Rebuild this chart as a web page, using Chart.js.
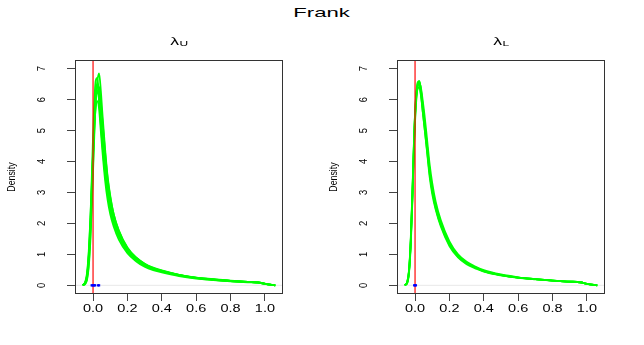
<!DOCTYPE html>
<html>
<head>
<meta charset="utf-8">
<script src="https://cdn.jsdelivr.net/npm/chart.js@4.4.0/dist/chart.umd.min.js"></script>
<style>
  html, body { margin: 0; padding: 0; background: #fff; }
  #fig { position: relative; width: 644px; height: 345px; overflow: hidden; }
  .panel { position: absolute; top: 0; }
  #title { position: absolute; top: 5px; left: 0; width: 644px; text-align: center;
           font: 13px "Liberation Sans", Arial, sans-serif; line-height: 15px; color: #000; }
  #title span { display: inline-block; transform: scaleX(1.7); }
</style>
</head>
<body>
<div id="fig">
  <div id="title"><span>Frank</span></div>
  <canvas id="upper" class="panel" width="322" height="345" style="left:0"></canvas>
  <canvas id="lower" class="panel" width="322" height="345" style="left:322px"></canvas>
</div>
<script>
// density grid (x) shared by all curves
const xGrid = [-0.06, -0.045, -0.035, -0.025, -0.015, -0.005, 0.005, 0.015, 0.025, 0.035,
               0.045, 0.055, 0.07, 0.085, 0.10, 0.12, 0.15, 0.20, 0.25, 0.30,
               0.35, 0.40, 0.50, 0.60, 0.70, 0.80, 0.90, 0.96, 1.00, 1.06];

// lambda_U density estimates
const upper1 = [0, 0.1, 0.3, 0.9, 2.0, 3.5, 5.1, 6.2, 6.5, 6.0, 5.2, 4.5, 3.6, 2.95, 2.5, 2.05, 1.6, 1.12, 0.85, 0.66, 0.54, 0.46, 0.33, 0.24, 0.19, 0.14, 0.11, 0.095, 0.05, 0];
const upper2 = [0, 0.05, 0.18, 0.6, 1.5, 2.9, 4.5, 5.9, 6.6, 6.85, 6.3, 5.5, 4.4, 3.5, 2.9, 2.3, 1.78, 1.22, 0.9, 0.7, 0.56, 0.47, 0.34, 0.25, 0.19, 0.145, 0.11, 0.095, 0.05, 0];
const upper3 = [0, 0.1, 0.35, 1.0, 2.2, 3.9, 5.6, 6.6, 6.7, 6.1, 5.3, 4.6, 3.7, 3.0, 2.5, 2.05, 1.58, 1.1, 0.83, 0.64, 0.52, 0.44, 0.32, 0.23, 0.18, 0.14, 0.11, 0.09, 0.05, 0];
const upper4 = [0, 0.12, 0.4, 1.1, 2.2, 3.6, 4.9, 5.7, 5.95, 5.7, 5.0, 4.3, 3.4, 2.75, 2.3, 1.9, 1.48, 1.04, 0.78, 0.6, 0.49, 0.42, 0.3, 0.22, 0.17, 0.13, 0.1, 0.085, 0.045, 0];
const upper5 = [0, 0.08, 0.3, 0.9, 1.9, 3.4, 5.0, 6.0, 6.3, 6.0, 5.4, 4.8, 3.9, 3.15, 2.65, 2.15, 1.66, 1.16, 0.87, 0.67, 0.55, 0.47, 0.34, 0.25, 0.2, 0.15, 0.115, 0.1, 0.055, 0];
const upper6 = [0, 0.06, 0.22, 0.7, 1.7, 3.1, 4.7, 6.0, 6.45, 6.4, 5.9, 5.3, 4.3, 3.45, 2.85, 2.3, 1.75, 1.2, 0.9, 0.7, 0.57, 0.48, 0.34, 0.24, 0.18, 0.14, 0.105, 0.09, 0.05, 0];

// lambda_L density estimates
const lower1 = [0, 0.1, 0.45, 1.4, 3.0, 4.8, 6.0, 6.5, 6.6, 6.3, 5.8, 5.3, 4.5, 3.7, 3.1, 2.55, 2.0, 1.35, 0.95, 0.72, 0.58, 0.46, 0.33, 0.25, 0.2, 0.15, 0.12, 0.1, 0.05, 0];
const lower2 = [0, 0.12, 0.5, 1.5, 3.1, 4.9, 6.0, 6.45, 6.5, 6.15, 5.6, 5.1, 4.3, 3.5, 2.95, 2.45, 1.9, 1.27, 0.9, 0.68, 0.55, 0.44, 0.32, 0.24, 0.19, 0.15, 0.115, 0.1, 0.05, 0];
const lower3 = [0, 0.08, 0.4, 1.3, 2.8, 4.6, 5.8, 6.4, 6.55, 6.35, 5.95, 5.5, 4.7, 3.9, 3.3, 2.7, 2.1, 1.42, 1.0, 0.76, 0.61, 0.49, 0.35, 0.26, 0.2, 0.155, 0.12, 0.1, 0.05, 0];
const lower4 = [0, 0.1, 0.45, 1.4, 2.9, 4.7, 5.9, 6.35, 6.4, 6.1, 5.6, 5.1, 4.35, 3.6, 3.05, 2.5, 1.95, 1.32, 0.93, 0.71, 0.57, 0.46, 0.33, 0.25, 0.2, 0.15, 0.12, 0.1, 0.05, 0];
const lower5 = [0, 0.11, 0.48, 1.45, 3.0, 4.85, 6.05, 6.55, 6.6, 6.25, 5.75, 5.25, 4.5, 3.7, 3.1, 2.58, 2.02, 1.36, 0.96, 0.73, 0.58, 0.47, 0.33, 0.25, 0.2, 0.15, 0.12, 0.1, 0.05, 0];

// estimates shown as blue points on the x axis
const upperDots = [-0.008, -0.003, 0.002, 0.007, 0.012, 0.029, 0.035];
const lowerDots = [-0.005, 0, 0.005];

const trueValue = 0;   // red reference line
const xTicks = [0, 0.2, 0.4, 0.6, 0.8, 1.0];
const yTicks = [0, 1, 2, 3, 4, 5, 6, 7];

const FONT = '"Liberation Sans", Arial, sans-serif';

const rStyle = {
    id: 'rStyle',
    afterDraw(chart, args, opts)
    {
        const ctx = chart.ctx;
        const a = chart.chartArea;
        const x = chart.scales.x, y = chart.scales.y;
        ctx.save();

        // plot box
        ctx.strokeStyle = '#333';
        ctx.lineWidth = 1;
        ctx.strokeRect(a.left + 0.5, a.top + 0.5, a.width - 1, a.height - 1);

        ctx.fillStyle = '#000';
        ctx.textAlign = 'center';
        ctx.textBaseline = 'middle';
        ctx.font = '10px ' + FONT;
        xTicks.forEach(v => {
            ctx.save();
            ctx.translate(x.getPixelForValue(v), 309.5);
            ctx.scale(1.45, 1);
            ctx.fillText(v.toFixed(1), 0, 0);
            ctx.restore();
        });
        ctx.font = '11px ' + FONT;
        yTicks.forEach(v => {
            ctx.save();
            ctx.translate(41.5, y.getPixelForValue(v));
            ctx.rotate(-Math.PI / 2);
            ctx.scale(0.85, 1);
            ctx.fillText(String(v), 0, 0);
            ctx.restore();
        });

        // y title
        ctx.save();
        ctx.translate(12, (a.top + a.bottom) / 2);
        ctx.rotate(-Math.PI / 2);
        ctx.font = '11px ' + FONT;
        ctx.scale(0.8, 1);
        ctx.fillText('Density', 0, 0);
        ctx.restore();

        // panel title: lambda with subscript
        ctx.save();
        ctx.translate((a.left + a.right) / 2, 45);
        ctx.scale(1.6, 1);
        ctx.textBaseline = 'alphabetic';
        ctx.textAlign = 'left';
        ctx.font = '11px ' + FONT;
        const wL = ctx.measureText('\u03bb').width;
        ctx.font = '7.5px ' + FONT;
        const wS = ctx.measureText(opts.sub).width;
        const x0 = -(wL + wS) / 2;
        ctx.font = '11px ' + FONT;
        ctx.fillText('\u03bb', x0, 0);
        ctx.font = '7.5px ' + FONT;
        ctx.fillText(opts.sub, x0 + wL + 0.3, 0.5);
        ctx.restore();

        ctx.restore();
    }
};

function makePanel(id, curves, dots, sub)
{
    let datasets = [];
    datasets.push({
        data: dots.map(v => ({x: v, y: 0})),
        showLine: false, pointStyle: 'rect', pointRadius: 1.6,
        backgroundColor: '#0000ff', borderWidth: 0, order: 0
    });
    datasets.push({
        data: [{x: trueValue, y: -1}, {x: trueValue, y: 8}],
        borderColor: 'rgba(255,0,0,0.9)', borderWidth: 1.3, pointRadius: 0, order: 1
    });
    curves.forEach(c => {
        datasets.push({
            data: xGrid.map((xv, i) => ({x: xv, y: c[i]})),
            borderColor: '#00ff00', borderWidth: 1.8, pointRadius: 0,
            cubicInterpolationMode: 'monotone', order: 2
        });
    });
    datasets.push({
        data: [{x: -0.2, y: 0}, {x: 1.2, y: 0}],
        borderColor: '#e8e8e8', borderWidth: 1, pointRadius: 0, order: 3
    });

    new Chart(document.getElementById(id).getContext('2d'),
        {
            type: 'line',
            data: { datasets: datasets },
            plugins: [rStyle],
            options:
                {
                    responsive: false,
                    animation: false,
                    events: [],
                    layout: { padding: { left: 0, top: 60, right: 39, bottom: 0 } },
                    plugins:
                        {
                            legend: { display: false },
                            tooltip: { enabled: false },
                            rStyle: { sub: sub }
                        },
                    scales:
                        {
                            x:
                                {
                                    type: 'linear', min: -0.105, max: 1.105,
                                    afterBuildTicks: s => { s.ticks = xTicks.map(v => ({value: v})); },
                                    afterFit: s => { s.height = 51; },
                                    ticks: { display: false },
                                    grid: { drawOnChartArea: false, tickLength: 7, color: '#444' },
                                    border: { display: false }
                                },
                            y:
                                {
                                    type: 'linear', min: -0.28, max: 7.28,
                                    afterBuildTicks: s => { s.ticks = yTicks.map(v => ({value: v})); },
                                    afterFit: s => { s.width = 75; },
                                    ticks: { display: false },
                                    grid: { drawOnChartArea: false, tickLength: 8, color: '#444' },
                                    border: { display: false }
                                }
                        }
                }
        });
}

makePanel('upper', [upper4, upper5, upper1, upper6, upper3, upper2], upperDots, 'U');
makePanel('lower', [lower4, lower2, lower1, lower3, lower5], lowerDots, 'L');
</script>
</body>
</html>
